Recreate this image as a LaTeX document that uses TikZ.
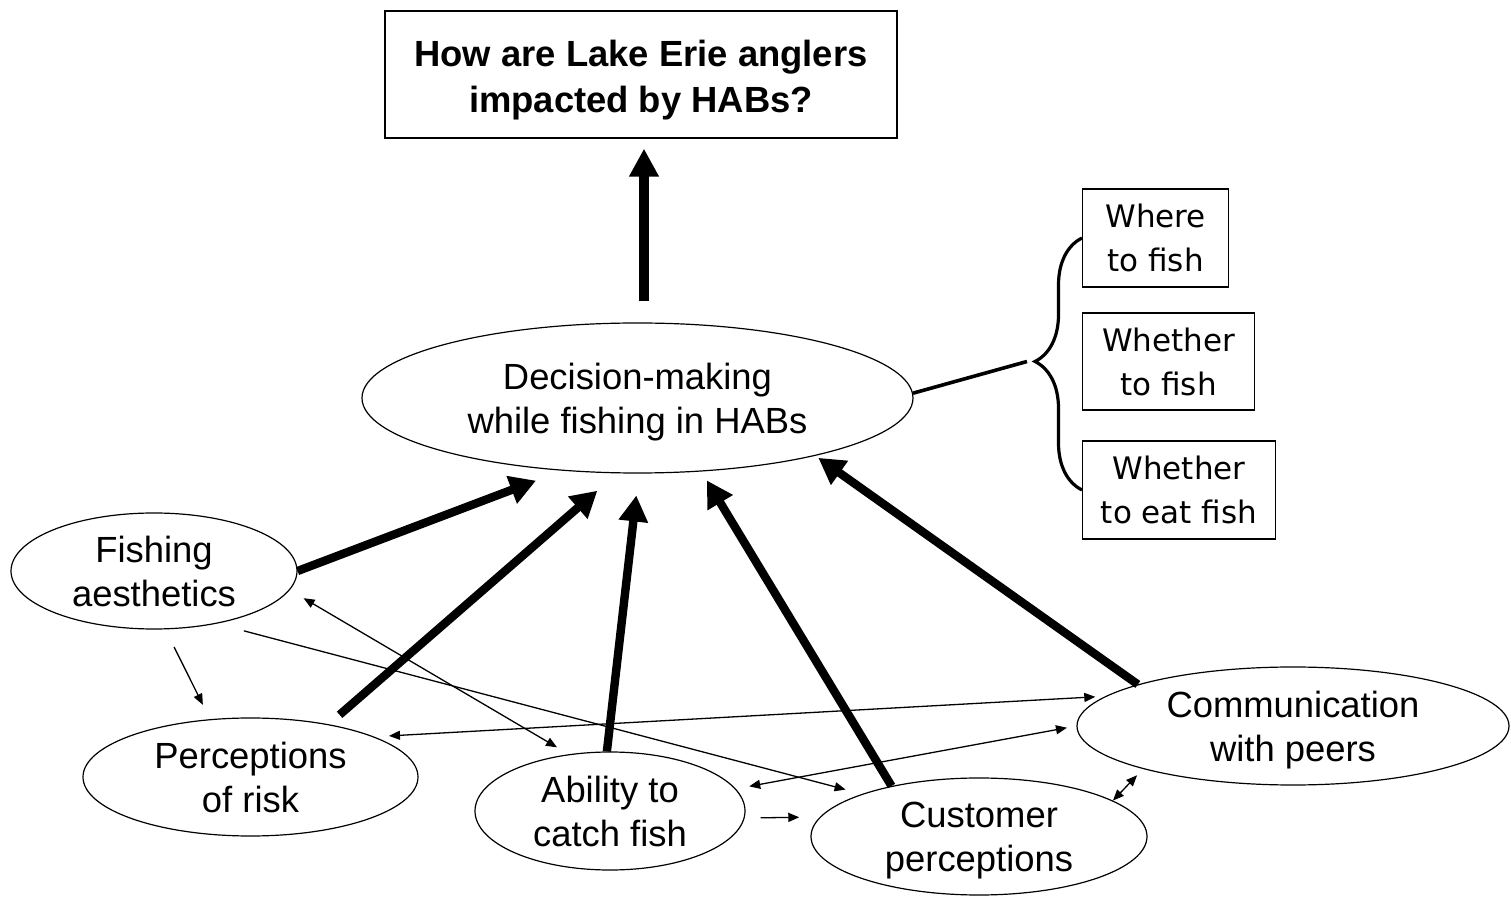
\documentclass[tikz,border=0pt]{standalone}
\usepackage{fontspec}
\setmainfont{Liberation Sans}
\newfontfamily\choicefont{DejaVu Sans}
\usetikzlibrary{arrows.meta,shapes.geometric,decorations.pathreplacing}

\begin{document}
\begin{tikzpicture}[x=0.5pt,y=-0.5pt,
  bubble/.style={ellipse,draw=black,line width=0.6pt,inner sep=0pt,align=center,font=\fontsize{18.2}{22}\selectfont},
  choice/.style={rectangle,draw=black,line width=0.6pt,inner sep=0pt,align=center,anchor=west,minimum height=49pt,font=\choicefont\fontsize{15.5}{22}\selectfont},
  strong/.style={line width=4.2pt,-{Triangle[length=13pt,width=14pt]}},
  weak/.style={line width=0.65pt,-{Triangle[length=5.5pt,width=4.5pt]}},
  weakboth/.style={line width=0.65pt,{Triangle[length=5.5pt,width=4.5pt]}-{Triangle[length=5.5pt,width=4.5pt]}}]
\useasboundingbox (0,0) rectangle (1511,897);
% \draw[help lines,step=100] (0,0) grid (1511,897);
\node (ttl) [rectangle,draw=black,line width=0.6pt,minimum width=256pt,minimum height=63.5pt,inner sep=0pt,align=center,font=\bfseries\fontsize{18.2}{23}\selectfont] at (641,74.5) {\rule{0pt}{15pt}How are Lake Erie anglers\\\smash{impacted by HABs?}};
\node (dec) [bubble,minimum width=275.5pt,minimum height=75pt] at (637.5,398) {Decision-making\\\smash{while fishing in HABs}};
\node (aes) [bubble,minimum width=143pt,minimum height=58pt] at (154,571) {Fishing\\aesthetics};
\node (per) [bubble,minimum width=167.5pt,minimum height=59pt] at (250.5,777) {Perceptions\\of risk};
\node (abl) [bubble,minimum width=135pt,minimum height=59pt] at (610,811) {Ability to\\catch fish};
\node (cus) [bubble,minimum width=168pt,minimum height=58.5pt] at (979,836.5) {Customer\\\smash{perceptions}};
\node (com) [bubble,minimum width=216pt,minimum height=59pt] at (1293,726) {Communication\\\smash{with peers}};
%
\node (whr) [choice,minimum width=73pt] at (1082,238) {Where\\to fish};
\node (wfs) [choice,minimum width=86pt,minimum height=48.5pt] at (1082,361.5) {Whether\\to fish};
\node (eat) [choice,minimum width=96.5pt] at (1082,490) {Whether\\to eat fish};
\coordinate (tip) at (1027,361.5);
%
\draw[line width=4.6pt,-{Triangle[length=14pt,width=14pt]},shorten <=10.5pt,shorten >=5pt] ([xshift=1.5pt]ttl.south |- dec.north) -- ([xshift=1.5pt]ttl.south);
\draw[line width=1.6pt,decorate,decoration={brace,amplitude=23.5pt,aspect=0.51}] (eat.west) -- (whr.west);
\draw[line width=1.8pt] (dec.1) -- (tip);
%
\draw[strong,shorten >=14pt] (aes.east) -- (dec.224);
\draw[strong,shorten <=7.2pt,shorten >=13.2pt] (per.34.5) -- (dec.255.4);
\draw[strong,shorten >=11pt] (abl.93) -- (dec.271);
\draw[strong,shorten >=5.2pt] (cus.150.5) -- (dec.311.3);
\draw[strong,shorten >=1.8pt] (com.165) -- (dec.342.4);
%
\draw[weak,shorten <=9.8pt,shorten >=8pt] (aes.281.3) -- (per.125.6);
\draw[weakboth,shorten <=8pt,shorten >=6.8pt] (aes.352) -- (abl.126.4);
\draw[weak,shorten <=14pt,shorten >=8.5pt] (aes.320.4) -- (cus.160.2);
\draw[weakboth,shorten <=7.3pt,shorten >=5pt] (per.18.4) -- (com.171.8);
\draw[weakboth,shorten <=6.8pt,shorten >=4.8pt] (abl.10.3) -- (com.180.6);
\draw[weak,shorten <=8pt,shorten >=10.3pt] (abl.357.4) -- (cus.173);
\draw[weakboth,shorten >=4.3pt] (cus.15) -- (com.196.2);
\end{tikzpicture}
\end{document}
